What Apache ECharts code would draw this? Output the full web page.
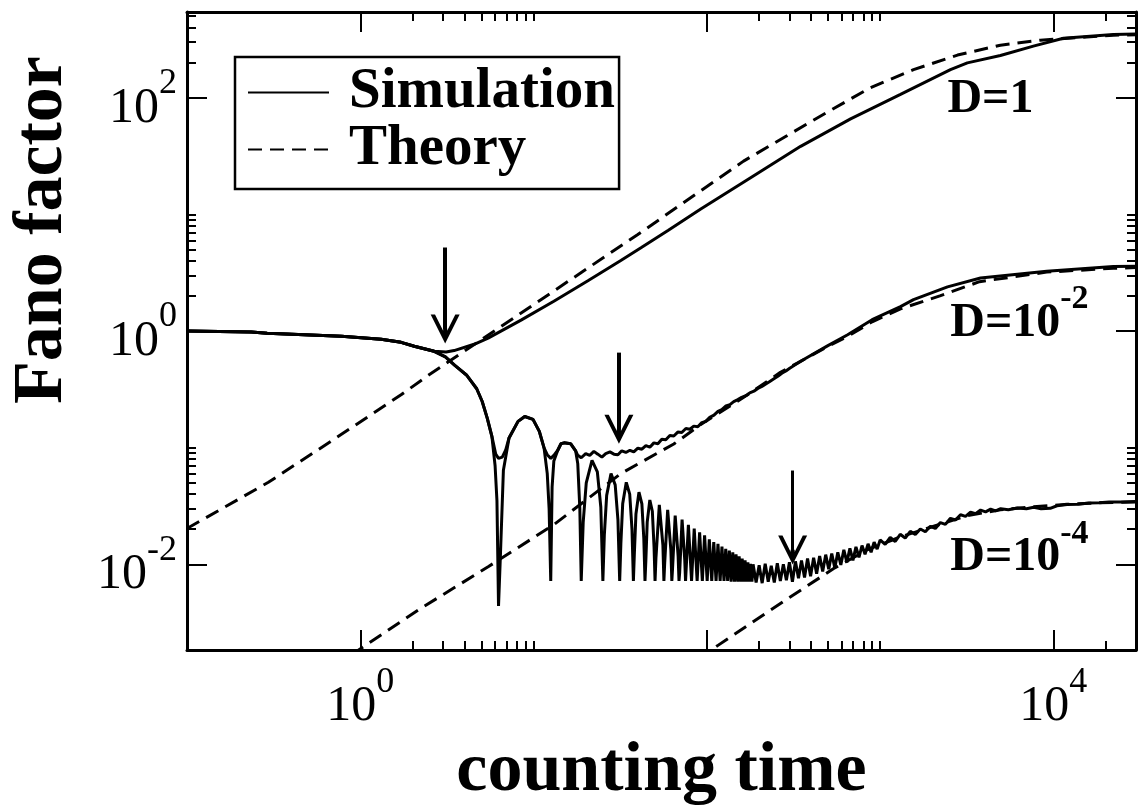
<!DOCTYPE html>
<html>
<head>
<meta charset="utf-8">
<title>Fano factor vs counting time</title>
<script src="https://cdn.jsdelivr.net/npm/echarts@6/dist/echarts.min.js"></script>
<style>
  html, body { margin: 0; padding: 0; background: #ffffff; }
  #chart { width: 1140px; height: 812px; }
</style>
</head>
<body>
<div id="chart"></div>
<script>
// ---- axis ranges and ticks ----
const xRange = [0.1, 30000];
const yRange = [0.00184, 543];
const xMajorTicks = [1, 100, 10000];
const xMinorTicks = [2, 3, 4, 5, 6, 7, 8, 9, 10, 200, 300, 400, 500, 600, 700, 800, 900, 1000, 20000, 30000];
const yMajorTicks = [0.01, 1, 100];
const yMinorTicks = [0.02, 0.03, 0.04, 0.05, 0.06, 0.07, 0.08, 0.09, 0.1, 2, 3, 4, 5, 6, 7, 8, 9, 10, 200, 300, 400, 500];
const xLabelValues = [1, 10000];
const xLabelExps = ['0', '4'];
const yLabelValues = [0.01, 1, 100];
const yLabelExps = ['-2', '0', '2'];

// ---- simulated Fano factor: shared short-time part ----
const simCommon = [[0.1, 1.0], [0.235, 0.98], [0.29, 0.955], [0.78, 0.9], [1.32, 0.85], [1.72, 0.8], [2.05, 0.74], [2.67, 0.67]];
// D = 1 continues upward after the first minimum
const simD1Tail = [[3.13, 0.66], [3.48, 0.68], [4.54, 0.77], [5.47, 0.87], [8.47, 1.24], [13.1, 1.8], [20.6, 2.7], [31.9, 4.02], [41.7, 5.17],
  [60, 7.3], [92.3, 11.1], [179, 20.6], [348, 38.3], [676, 65.9], [1312, 107], [2549, 174], [3190, 199], [4950, 230], [7670, 277], [11430, 323],
  [22200, 349], [30000, 352]];
// smaller noise: the curve first drops into the oscillating regime
const simDescent = [[3.1, 0.6], [3.5, 0.51], [4.1, 0.42], [4.7, 0.32], [5.05, 0.25], [5.4, 0.18], [5.75, 0.125]];
const simD2Tail = [[6.05, 0.088], [6.28, 0.081], [6.6, 0.083], [6.9, 0.095], [7.22, 0.121], [8.14, 0.168], [8.9, 0.185], [9.93, 0.175], [10.8, 0.138],
  [11.5, 0.0995], [12.0, 0.087], [12.57, 0.081], [13.1, 0.086], [13.8, 0.095], [14.4, 0.108], [15.0, 0.11], [16.4, 0.108], [17.5, 0.094], [18.0, 0.086],
  [18.85, 0.082], [20, 0.089], [21.1, 0.086], [22.3, 0.093], [23.5, 0.088], [24.8, 0.083], [26.1, 0.089], [27.6, 0.092], [29.1, 0.088], [30.7, 0.087],
  [32.3, 0.094], [34.1, 0.091], [36, 0.095], [37.9, 0.092], [40, 0.099], [42.2, 0.097], [44.5, 0.104], [46.9, 0.101], [49.5, 0.11], [52.2, 0.108],
  [55, 0.118], [58, 0.117], [61.2, 0.127], [64.5, 0.126], [68, 0.136], [71.7, 0.135], [75.7, 0.146], [79.8, 0.144], [84.1, 0.153], [88.7, 0.151],
  [93.6, 0.164], [98.7, 0.168], [104, 0.182], [110, 0.19], [116, 0.205], [122, 0.212], [129, 0.228], [136, 0.234], [143, 0.248], [151, 0.258],
  [159, 0.27], [168, 0.279], [177, 0.295], [187, 0.305], [197, 0.322], [208, 0.335], [219, 0.352], [231, 0.37], [244, 0.39], [257, 0.41],
  [271, 0.435], [286, 0.455], [301, 0.48], [348, 0.55], [500, 0.75], [650, 0.93], [900, 1.25], [1312, 1.62], [1560, 1.86], [2450, 2.39],
  [3800, 2.85], [9160, 3.26], [22200, 3.58], [30000, 3.6]];
const simD4Tail = [[6.0, 0.07], [6.15, 0.035], [6.28, 0.0044], [6.45, 0.0127], [6.7, 0.064], [7.22, 0.121], [8.14, 0.168], [8.9, 0.185], [9.93, 0.175],
  [10.8, 0.138], [11.5, 0.0995], [12.0, 0.06], [12.3, 0.03], [12.57, 0.0072],
  [12.8, 0.046], [13.1, 0.077], [13.8, 0.095], [14.4, 0.108], [15.0, 0.11], [16.4, 0.108], [17.5, 0.094], [18.0, 0.073], [18.5, 0.03], [18.85, 0.0072],
  [19.35, 0.023], [20.15, 0.05], [21.75, 0.078], [23.35, 0.062], [24.45, 0.031], [25.13, 0.0072],
  [25.63, 0.018], [26.43, 0.039], [28.0, 0.06], [29.6, 0.048], [30.7, 0.024], [31.42, 0.0072],
  [31.92, 0.015], [32.7, 0.033], [34.3, 0.0505], [35.9, 0.04], [37.0, 0.02], [37.7, 0.0072],
  [38.2, 0.0125], [39.0, 0.027], [40.6, 0.0416], [42.2, 0.033], [43.3, 0.0166], [43.98, 0.0072],
  [44.48, 0.0107], [45.3, 0.023], [46.9, 0.0356], [48.5, 0.0285], [49.6, 0.0142], [50.27, 0.0072],
  [50.87, 0.0113], [53.2, 0.0324], [55.8, 0.0146], [56.55, 0.0072],
  [57.15, 0.0103], [59.45, 0.0293], [62.05, 0.0132], [62.83, 0.0072],
  [63.43, 0.0092], [65.7, 0.0262], [68.3, 0.0118], [69.12, 0.0072],
  [69.72, 0.0085], [72.0, 0.0242], [74.6, 0.0109], [75.4, 0.0072],
  [78.3, 0.0218], [81.68, 0.0072], [84.6, 0.0203], [87.96, 0.0072], [90.9, 0.0188], [94.25, 0.0072], [97.1, 0.0177], [100.5, 0.0072],
  [103.4, 0.0164], [106.8, 0.0072], [109.7, 0.0155], [113.1, 0.0072], [116.0, 0.015], [119.4, 0.0072], [122.3, 0.0142], [125.7, 0.0072],
  [128.6, 0.0136], [131.9, 0.0072], [134.9, 0.0131], [138.2, 0.0071], [141.2, 0.0127], [144.5, 0.0071], [147.5, 0.0122], [150.8, 0.0071],
  [153.7, 0.0117], [157.1, 0.0071], [160.0, 0.0112], [163.4, 0.0071], [166.3, 0.0108], [169.6, 0.0071], [172.6, 0.0104], [175.9, 0.0071],
  [178.9, 0.0101], [182.2, 0.0071],
  [185, 0.0100], [192.6, 0.0070], [200.5, 0.0098], [208.7, 0.0069], [217.3, 0.0101], [226.2, 0.0071], [235.5, 0.0097], [245.2, 0.0070],
  [255.2, 0.0102], [265.7, 0.0072], [276.6, 0.0100], [288, 0.0073], [299.8, 0.0104], [312, 0.0071], [324.8, 0.0106], [338.2, 0.0076],
  [352, 0.0108], [366.5, 0.0077], [381.5, 0.0112], [397.2, 0.0079], [413.5, 0.0114], [430.4, 0.0083], [448, 0.0118], [466.5, 0.0087],
  [485.6, 0.0121], [505.5, 0.0091], [526.3, 0.0124], [547.9, 0.0093], [570.3, 0.0127], [593.7, 0.0099], [618, 0.0133], [643.4, 0.0104],
  [669.8, 0.0137], [697.3, 0.0108], [725.9, 0.0141], [755.7, 0.0115], [786.7, 0.0145], [819, 0.0122], [852.6, 0.0150], [887.6, 0.0127],
  [924, 0.0155], [962, 0.0135], [1001, 0.0162], [1070, 0.0148], [1144, 0.0170], [1223, 0.0157], [1307, 0.0181], [1397, 0.0168],
  [1494, 0.0192], [1597, 0.0180], [1707, 0.0201], [1825, 0.0190], [1951, 0.0212], [2085, 0.0203], [2229, 0.0228], [2383, 0.0220],
  [2548, 0.0248], [2724, 0.0240], [2912, 0.0266], [3113, 0.0258], [3328, 0.0280], [3557, 0.0272], [3803, 0.0292], [4065, 0.0282],
  [4346, 0.0297], [4646, 0.0287], [4967, 0.0300], [5500, 0.0294], [6200, 0.0304], [7000, 0.0300], [7700, 0.0309], [8500, 0.0300],
  [9600, 0.0302], [10500, 0.0318], [12000, 0.0325], [14000, 0.0328], [16000, 0.0336], [18400, 0.0337], [21000, 0.0342], [25000, 0.0343],
  [30000, 0.0346]];

// ---- theoretical Fano factor ----
const theoryD1 = [[0.1, 0.0203], [0.295, 0.0505], [0.708, 0.1185], [1.72, 0.284], [2.46, 0.415], [39.8, 6.69], [96, 16.6], [163, 28.6], [285, 46.5],
  [498, 75.5], [881, 122], [1560, 174], [2800, 232], [4950, 282], [8410, 311], [22200, 343], [30000, 347]];
const theoryD2 = [[0.1, 0.00019], [2.25, 0.00422], [5.47, 0.00953], [13.1, 0.0219], [31.9, 0.06], [64.5, 0.1075], [92.3, 0.158], [172, 0.284],
  [266, 0.443], [348, 0.55], [500, 0.74], [650, 0.9], [900, 1.2], [1312, 1.55], [2214, 2.0], [3750, 2.65], [9160, 3.2], [22200, 3.45], [30000, 3.5]];
const theoryD4 = [[0.1, 0.00000174], [116, 0.00202], [300, 0.0052], [540, 0.0092], [850, 0.0134], [1312, 0.0172], [2040, 0.0212], [3200, 0.0262],
  [4950, 0.0293], [7670, 0.0312], [12000, 0.0327], [18400, 0.0337], [30000, 0.0343]];

// ---- arrows at the minima (counting time, top value, head value) ----
const arrowT = [3.09, 31.1, 313];
const arrowTop = [5.2, 0.653, 0.0637];
const arrowHead = [1.04, 0.1438, 0.01324];

// ---- curve labels ----
const curveLabelBase = ['D=1', 'D=10', 'D=10'];
const curveLabelExp = ['', '-2', '-4'];
const curveLabelT = [4335, 6370, 6370];
const curveLabelF = [97.1, 1.168, 0.01134];

const SERIF = "'Liberation Serif', 'Times New Roman', serif";
const BLACK = '#000000';

function powerLabel(values, exps) {
  return function (v) {
    for (let i = 0; i < values.length; i++) {
      if (Math.abs(Math.log10(v / values[i])) < 1e-6) return '{b|10}{s|' + exps[i] + '}';
    }
    return '';
  };
}
const tickRich = {
  b: { fontFamily: SERIF, fontSize: 50, color: BLACK, padding: [22, 0, 0, 0] },
  s: { fontFamily: SERIF, fontSize: 36, color: BLACK, padding: [0, 0, 28, 0] }
};

function tickAxis(range, position, ticks, len, showLine) {
  return {
    type: 'log', min: range[0], max: range[1], position: position,
    splitLine: { show: false },
    axisLine: { show: showLine, lineStyle: { color: BLACK, width: 3 } },
    axisTick: { show: true, inside: true, length: len, lineStyle: { color: BLACK, width: 2 }, customValues: ticks },
    axisLabel: { show: false }
  };
}

const xMain = tickAxis(xRange, 'bottom', xMajorTicks, 20, true);
xMain.axisLabel = { show: true, customValues: xLabelValues, formatter: powerLabel(xLabelValues, xLabelExps), rich: tickRich, margin: 10 };
xMain.name = 'counting time';
xMain.nameLocation = 'middle';
xMain.nameGap = 79;
xMain.nameTextStyle = { fontFamily: SERIF, fontWeight: 'bold', fontSize: 70, color: BLACK };

const yMain = tickAxis(yRange, 'left', yMajorTicks, 20, true);
yMain.axisLabel = { show: true, customValues: yLabelValues, formatter: powerLabel(yLabelValues, yLabelExps), rich: tickRich, margin: 10 };
yMain.name = 'Fano factor';
yMain.nameLocation = 'middle';
yMain.nameGap = 109;
yMain.nameTextStyle = { fontFamily: SERIF, fontWeight: 'bold', fontSize: 70, color: BLACK, padding: [0, 0, 0, 202] };

function curve(name, data, dashed, extra) {
  return Object.assign({
    type: 'line', name: name, data: data, xAxisIndex: 0, yAxisIndex: 0,
    showSymbol: false, symbol: 'none', clip: true, silent: true,
    lineStyle: { color: BLACK, width: 3, type: dashed ? [14, 8] : 'solid' },
    itemStyle: { color: BLACK },
    emphasis: { disabled: true },
    z: dashed ? 3 : 2
  }, extra || {});
}

function curveLabel(i) {
  const text = curveLabelExp[i] ? '{m|' + curveLabelBase[i] + '}{s|' + curveLabelExp[i] + '}' : '{m|' + curveLabelBase[i] + '}';
  return {
    silent: true, symbol: 'circle', symbolSize: 1, itemStyle: { color: 'rgba(0,0,0,0)' },
    label: {
      show: true, position: 'inside', formatter: text,
      rich: {
        m: { fontFamily: SERIF, fontWeight: 'bold', fontSize: 48, color: BLACK },
        s: { fontFamily: SERIF, fontWeight: 'bold', fontSize: 34, color: BLACK, padding: [0, 0, 48, 0] }
      }
    },
    data: [{ coord: [curveLabelT[i], curveLabelF[i]] }]
  };
}

// open arrow head, tip at the top, centred on the end point of the shaft
const arrowHeadPath = 'path://M10,0 L20,20 L17,20 L10,6 L3,20 L0,20 Z M8.6,6 L11.4,6 L11.4,10.3 L8.6,10.3 Z';
const arrowLines = arrowT.map(function (t, i) {
  return [
    { coord: [t, arrowTop[i]], lineStyle: { width: i === 2 ? 3 : 4 } },
    { coord: [t, arrowHead[i]] }
  ];
});

const option = {
  backgroundColor: '#ffffff',
  animation: false,
  grid: { left: 185, right: 4, top: 12, bottom: 150, containLabel: false },
  xAxis: [
    xMain,
    tickAxis(xRange, 'bottom', xMinorTicks, 9, false),
    tickAxis(xRange, 'top', xMajorTicks, 20, true),
    tickAxis(xRange, 'top', xMinorTicks, 9, false)
  ],
  yAxis: [
    yMain,
    tickAxis(yRange, 'left', yMinorTicks, 9, false),
    tickAxis(yRange, 'right', yMajorTicks, 20, true),
    tickAxis(yRange, 'right', yMinorTicks, 9, false)
  ],
  legend: {
    data: ['Simulation', 'Theory'],
    orient: 'vertical', left: 235, top: 57,
    padding: [7, 4, 11, 12], itemGap: 0, itemWidth: 81, itemHeight: 14,
    borderColor: BLACK, borderWidth: 2.5, backgroundColor: '#ffffff',
    selectedMode: false,
    // the legend keeps only the line sample, no marker on it
    itemStyle: { color: 'rgba(0,0,0,0)', borderColor: 'rgba(0,0,0,0)', borderWidth: 0 },
    textStyle: { fontFamily: SERIF, fontWeight: 'bold', fontSize: 57, color: BLACK, lineHeight: 51, padding: [0, 0, 0, 15] }
  },
  series: [
    curve('Simulation', simCommon.concat(simD1Tail), false, {
      markLine: {
        silent: true, symbol: ['none', arrowHeadPath], symbolSize: 29,
        label: { show: false }, emphasis: { disabled: true },
        lineStyle: { color: BLACK, width: 4, type: 'solid' },
        data: arrowLines
      }
    }),
    curve('Simulation', simCommon.concat(simDescent, simD2Tail), false),
    curve('Simulation', simCommon.concat(simDescent, simD4Tail), false),
    curve('Theory', theoryD1, true, { markPoint: curveLabel(0) }),
    curve('Theory', theoryD2, true, { markPoint: curveLabel(1) }),
    curve('Theory', theoryD4, true, { markPoint: curveLabel(2) })
  ]
};

const chart = echarts.init(document.getElementById('chart'), null, { renderer: 'canvas' });
chart.setOption(option);
</script>
</body>
</html>
